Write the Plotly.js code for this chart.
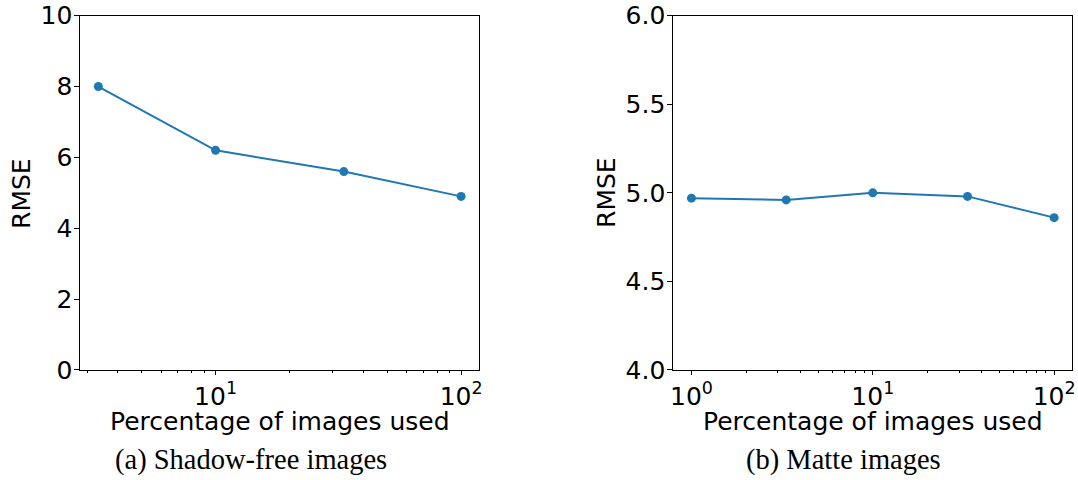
<!DOCTYPE html>
<html>
<head>
<meta charset="utf-8">
<script src="https://cdn.plot.ly/plotly-3.0.1.min.js"></script>
<style>
html,body{margin:0;padding:0;background:#fff;}
#chart{width:1078px;height:480px;}
</style>
</head>
<body>
<div id="chart"></div>
<script>
// ---- data ----
const shadowPct = [3.33, 10, 33.3, 100];
const shadowRmse = [8.0, 6.2, 5.6, 4.9];
const mattePct = [1, 3.33, 10, 33.3, 100];
const matteRmse = [4.97, 4.96, 5.0, 4.98, 4.86];
const xTickVals = [1, 10, 100];
const xTickText = ['10<sup>0</sup>', '10<sup>1</sup>', '10<sup>2</sup>'];
const minorVals = [2,3,4,5,6,7,8,9,20,30,40,50,60,70,80,90];
const yTicksA = [0, 2, 4, 6, 8, 10];
const yTicksB = [4.0, 4.5, 5.0, 5.5, 6.0];
const captions = ['(a) Shadow-free images', '(b) Matte images'];
const xTitle = 'Percentage of images used';
const yTitle = 'RMSE';

const blue = '#1f77b4';
const tickFont = {family: 'DejaVu Sans', size: 25, color: '#000'};
const capFont = {family: 'Liberation Serif', size: 28.5, color: '#000'};

function trace(x, y, xa, ya) {
  return {
    x: x, y: y, xaxis: xa, yaxis: ya, type: 'scatter', mode: 'lines+markers',
    line: {color: blue, width: 2}, marker: {color: blue, size: 9},
    hoverinfo: 'skip', showlegend: false
  };
}

function xaxis(domain, range) {
  return {
    domain: domain, type: 'log', range: range,
    tickmode: 'array', tickvals: xTickVals, ticktext: xTickText,
    ticks: 'outside', ticklen: 4, tickwidth: 1, tickcolor: '#000',
    minor: {tickmode: 'array', tickvals: minorVals, ticks: 'outside', ticklen: 2.5, tickwidth: 1, tickcolor: '#000', showgrid: false},
    showline: true, linecolor: '#000', linewidth: 1, mirror: true,
    showgrid: false, zeroline: false, tickfont: tickFont
  };
}

function yaxis(range, vals, fmt, anchor) {
  return {
    domain: [0.2292, 0.9673], range: range, anchor: anchor,
    tickmode: 'array', tickvals: vals, tickformat: fmt,
    ticks: 'outside', ticklen: 5, tickwidth: 1, tickcolor: '#000',
    ticklabelstandoff: -3,
    showline: true, linecolor: '#000', linewidth: 1, mirror: true,
    showgrid: false, zeroline: false, tickfont: tickFont
  };
}

function note(text, x, y, font, angle) {
  return {text: text, xref: 'paper', yref: 'paper', x: x, y: y, xanchor: 'center', yanchor: 'middle',
          showarrow: false, font: font, textangle: angle || 0, borderpad: 0};
}

const layout = {
  width: 1078, height: 480,
  margin: {l: 0, r: 0, t: 0, b: 0},
  paper_bgcolor: '#fff', plot_bgcolor: '#fff',
  xaxis: Object.assign(xaxis([0.0745, 0.4446], [0.449, 2.074]), {anchor: 'y'}),
  yaxis: yaxis([0, 10], yTicksA, 'd', 'x'),
  xaxis2: Object.assign(xaxis([0.6246, 0.9947], [-0.1, 2.1]), {anchor: 'y2'}),
  yaxis2: yaxis([4.0, 6.0], yTicksB, '.1f', 'x2'),
  annotations: [
    note(xTitle, 0.2596, 0.121, tickFont),
    note(xTitle, 0.8099, 0.121, tickFont),
    note(yTitle, 0.0204, 0.598, tickFont, -90),
    note(yTitle, 0.5631, 0.598, tickFont, -90),
    note(captions[0], 0.2324, 0.042, capFont),
    note(captions[1], 0.7827, 0.042, capFont)
  ]
};

Plotly.newPlot('chart', [
  trace(shadowPct, shadowRmse, 'x', 'y'),
  trace(mattePct, matteRmse, 'x2', 'y2')
], layout, {staticPlot: true, displayModeBar: false});
</script>
</body>
</html>
